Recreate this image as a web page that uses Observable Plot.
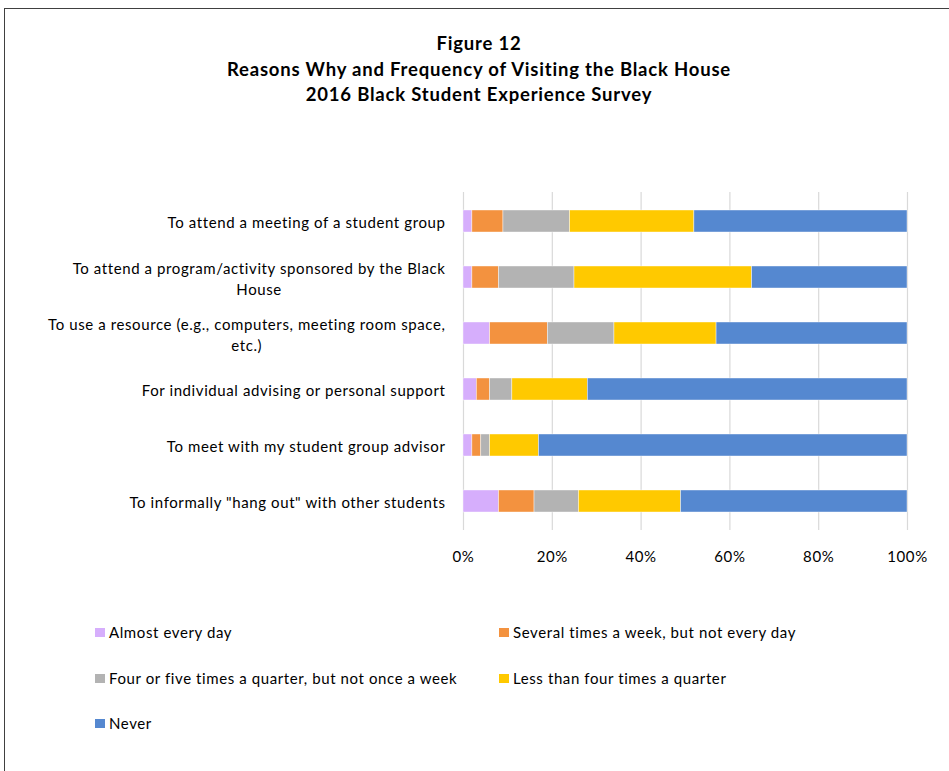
<!DOCTYPE html>
<html>
<head>
<meta charset="utf-8">
<script src="https://cdn.jsdelivr.net/npm/d3@7"></script>
<script src="https://cdn.jsdelivr.net/npm/@observablehq/plot@0.6"></script>
<style>
  html, body { margin: 0; padding: 0; background: #fff; }
  body { width: 949px; height: 771px; position: relative; overflow: hidden; font-family: Lato, "Open Sans", sans-serif; color: #000; }
  #frame { position: absolute; left: 4px; top: 8px; width: 1000px; height: 800px; border-left: 1px solid #404040; border-top: 1px solid #404040; }
  #title { position: absolute; left: 0; width: 958px; top: 31px; text-align: center; font-weight: bold; font-size: 18.5px; letter-spacing: 0.8px; line-height: 25.5px; }
  #chart { position: absolute; left: 0; top: 170px; }
  .leg { position: absolute; font-size: 15px; letter-spacing: 0.6px; line-height: 18px; white-space: nowrap; }
  .sw { position: absolute; width: 10px; height: 9px; }
</style>
</head>
<body>
<div id="frame"></div>
<div id="title">Figure 12<br>Reasons Why and Frequency of Visiting the Black House<br>2016 Black Student Experience Survey</div>
<div id="chart"></div>
<div id="legend"></div>
<script>
// Categories (top to bottom)
const categories = [
  "To attend a meeting of a student group",
  "To attend a program/activity sponsored by the Black\nHouse",
  "To use a resource (e.g., computers, meeting room space,\netc.)",
  "For individual advising or personal support",
  "To meet with my student group advisor",
  "To informally \"hang out\" with other students"
];
// Series names
const series = [
  "Almost every day",
  "Several times a week, but not every day",
  "Four or five times a quarter, but not once a week",
  "Less than four times a quarter",
  "Never"
];
// Series values (percent), one per category
const almostEveryDay   = [2, 2, 6, 3, 2, 8];
const severalPerWeek   = [7, 6, 13, 3, 2, 8];
const fourOrFivePerQtr = [15, 17, 15, 5, 2, 10];
const lessThanFour     = [28, 40, 23, 17, 11, 23];
const never            = [48, 35, 43, 72, 83, 51];
const seriesValues = [almostEveryDay, severalPerWeek, fourOrFivePerQtr, lessThanFour, never];
const colors = ["#D6AEFC", "#F3923F", "#B3B3B3", "#FFC900", "#5588D0"];
const xTicks = [0, 20, 40, 60, 80, 100];

const data = [];
categories.forEach((c, i) => {
  series.forEach((s, j) => data.push({category: c, series: s, value: seriesValues[j][i]}));
});

const chart = Plot.plot({
  width: 949,
  height: 400,
  marginTop: 22,
  marginBottom: 40,
  marginLeft: 463,
  marginRight: 42,
  style: {fontFamily: "Lato, 'Open Sans', sans-serif", fontSize: "15px", letterSpacing: "0.6px", color: "#000", background: "transparent"},
  x: {domain: [0, 100], ticks: xTicks, label: null},
  y: {domain: categories, paddingInner: 0.6, paddingOuter: 0.3, label: null},
  color: {domain: series, range: colors},
  marks: [
    Plot.gridX(xTicks, {stroke: "#d9d9d9", strokeOpacity: 1, strokeWidth: 1.2}),
    Plot.barX(data, Plot.stackX({x: "value", y: "category", fill: "series", stroke: "#ffffff", strokeWidth: 0.6, strokeOpacity: 0.7})),
    Plot.axisX(xTicks, {tickSize: 0, tickPadding: 21, tickFormat: d => d + "%", fontSize: 15, label: null}),
    Plot.axisY({tickSize: 0, tickPadding: 18, fontSize: 15, lineHeight: 1.4, label: null})
  ]
});
document.getElementById("chart").appendChild(chart);

// Center wrapped lines of y labels relative to each other (right-aligned block)
chart.querySelectorAll("g[aria-label='y-axis tick label'] text").forEach(t => {
  const spans = t.querySelectorAll("tspan");
  if (spans.length > 1) {
    const widths = Array.from(spans, s => s.getComputedTextLength());
    const maxW = Math.max(...widths);
    t.setAttribute("text-anchor", "middle");
    spans.forEach(s => s.setAttribute("x", -maxW / 2));
  }
});

// Legend
const legendPos = [
  {x: 95, y: 623}, {x: 499, y: 623},
  {x: 95, y: 669}, {x: 499, y: 669},
  {x: 95, y: 714}
];
const legend = document.getElementById("legend");
series.forEach((s, i) => {
  const p = legendPos[i];
  const sw = document.createElement("div");
  sw.className = "sw";
  sw.style.left = p.x + "px";
  sw.style.top = (p.y + 5) + "px";
  sw.style.background = colors[i];
  legend.appendChild(sw);
  const lab = document.createElement("div");
  lab.className = "leg";
  lab.style.left = (p.x + 14) + "px";
  lab.style.top = p.y + "px";
  lab.textContent = s;
  legend.appendChild(lab);
});
</script>
</body>
</html>
